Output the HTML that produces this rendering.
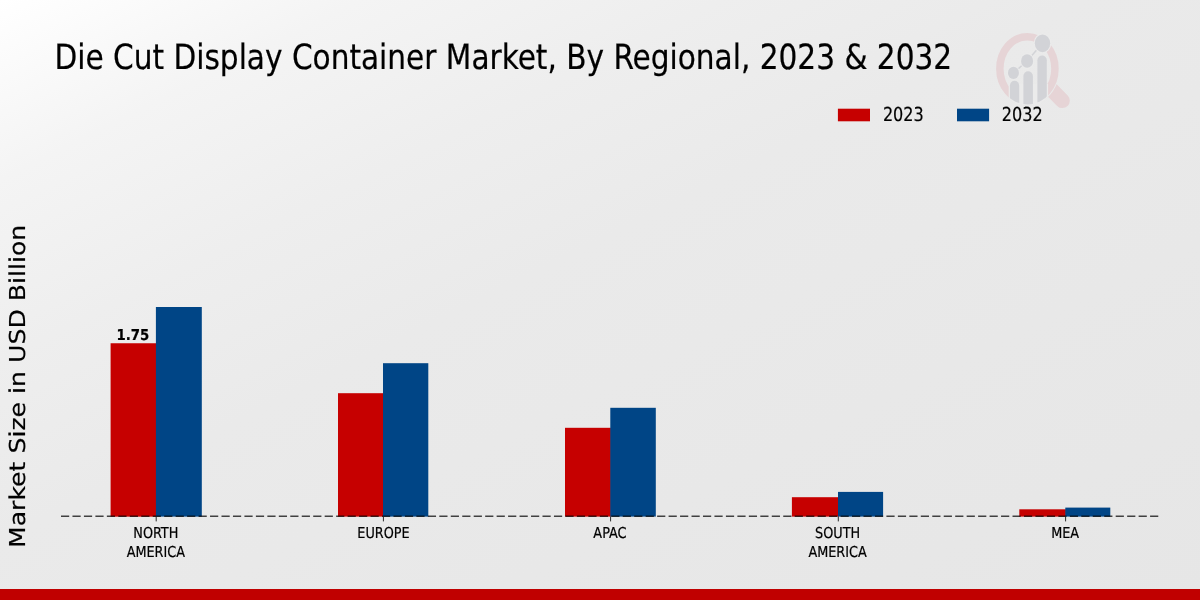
<!DOCTYPE html>
<html lang="en">
<head>
<meta charset="utf-8">
<title>Die Cut Display Container Market, By Regional, 2023 &amp; 2032</title>
<style>
html,body{margin:0;padding:0;}
body{width:1200px;height:600px;overflow:hidden;position:relative;
  background:linear-gradient(to bottom right,#ffffff 0%,#f4f4f4 15%,#eeeeee 30%,#eaeaea 45%,#e8e8e8 70%,#e6e6e6 100%);
  font-family:"DejaVu Sans Condensed","DejaVu Sans","Liberation Sans",sans-serif;color:#000;}
svg{position:absolute;left:0;top:0;}
text{font-family:"DejaVu Sans Condensed","DejaVu Sans","Liberation Sans",sans-serif;fill:#000;stroke:#000;stroke-width:0.2px;text-rendering:geometricPrecision;}
.ylab{font-family:"DejaVu Sans","Liberation Sans",sans-serif;font-stretch:normal;}
</style>
</head>
<body>
<svg width="1200" height="600" viewBox="0 0 1200 600">
  <!-- watermark logo -->
  <defs>
    <clipPath id="lc"><ellipse cx="1027.4" cy="68.7" rx="31.3" ry="35.8"/></clipPath>
    <clipPath id="lc2"><ellipse cx="1027.4" cy="68.7" rx="32.3" ry="36.8"/></clipPath>
    <clipPath id="hc"><path d="M980 20 H1090 V120 H980 Z M1027.4 31.9 a32.3 36.8 0 1 0 0.01 0 Z" clip-rule="evenodd"/></clipPath>
  </defs>
  <g id="logo">
    <line x1="1048" y1="86" x2="1062.4" y2="100.7" stroke="#e6d4d6" stroke-width="14.8" stroke-linecap="round" clip-path="url(#hc)"/>
    <ellipse cx="1027.4" cy="68.7" rx="27.55" ry="32.05" fill="none" stroke="#e6d4d6" stroke-width="7.5"/>
    <rect x="1008.7" y="84" width="39.4" height="24" fill="#ebebeb" clip-path="url(#lc2)"/>
    <g clip-path="url(#lc)" fill="#d2d3d7">
      <rect x="1009.9" y="80.8" width="9.3" height="40" rx="4.65"/>
      <rect x="1023.4" y="71.3" width="9.5" height="50" rx="4.75"/>
      <rect x="1037.4" y="55.6" width="9.4" height="60" rx="4.7"/>
    </g>
    <path d="M1013.4 72.9 L1027.1 61 L1042.5 43.3" stroke="#d2d3d7" stroke-width="1.5" fill="none"/>
    <g fill="#d2d3d7" stroke="#ebebeb" stroke-width="2.2" paint-order="stroke">
      <ellipse cx="1013.45" cy="72.9" rx="5.5" ry="6.05"/>
      <ellipse cx="1027.1" cy="61" rx="6.05" ry="6.8"/>
      <ellipse cx="1042.5" cy="43.3" rx="7.7" ry="8.9"/>
    </g>
  </g>
  <!-- title -->
  <text transform="translate(54.40,68.80) scale(0.9451,1)" font-size="34.8" text-anchor="start">Die Cut Display Container Market, By Regional, 2023 &amp; 2032</text>
  <!-- legend -->
  <rect x="837.9" y="108.7" width="32.1" height="12.6" fill="#c60000"/>
  <text transform="translate(882.90,121.45) scale(0.9245,1)" font-size="19.3" text-anchor="start">2023</text>
  <rect x="957" y="108.7" width="32.1" height="12.6" fill="#004586"/>
  <text transform="translate(1001.80,121.45) scale(0.9245,1)" font-size="19.3" text-anchor="start">2032</text>
  <!-- y label -->
  <text class="ylab" transform="translate(24.8,386.35) scale(0.87,1) rotate(-90)" text-anchor="middle" font-size="25.16">Market Size in USD Billion</text>
  <!-- bars -->
  <g fill="#c60000">
    <rect x="110.6" y="343.25" width="45.90" height="173.4"/>
    <rect x="338.0" y="393.2" width="45.60" height="123.4"/>
    <rect x="565.0" y="427.8" width="45.90" height="88.8"/>
    <rect x="791.9" y="497.2" width="46.70" height="19.4"/>
    <rect x="1019.3" y="509.3" width="46.60" height="7.3"/>
  </g>
  <g fill="#004586">
    <rect x="155.9" y="307.0" width="45.90" height="209.6"/>
    <rect x="383.0" y="363.2" width="45.30" height="153.4"/>
    <rect x="610.3" y="407.8" width="45.50" height="108.8"/>
    <rect x="838.0" y="491.9" width="45.10" height="24.7"/>
    <rect x="1065.3" y="507.6" width="45.00" height="9.0"/>
  </g>
  <!-- axis line -->
  <line x1="61" y1="516.2" x2="1159" y2="516.2" stroke="#000" stroke-opacity="0.72" stroke-width="1.5" stroke-dasharray="8.2 3.264"/>
  <g stroke="#2a2a2a" stroke-width="1">
    <line x1="156.20" y1="516.5" x2="156.20" y2="521.4"/>
    <line x1="383.40" y1="516.5" x2="383.40" y2="521.4"/>
    <line x1="610.60" y1="516.5" x2="610.60" y2="521.4"/>
    <line x1="838.30" y1="516.5" x2="838.30" y2="521.4"/>
    <line x1="1065.60" y1="516.5" x2="1065.60" y2="521.4"/>
  </g>
  <!-- value label -->
  <text transform="translate(132.85,339.65) scale(0.985,1)" font-size="15.0" text-anchor="middle" font-weight="bold">1.75</text>
  <!-- x labels -->
  <g>
    <text transform="translate(155.80,538.00) scale(0.95,1)" font-size="15.0" text-anchor="middle">NORTH</text>
    <text transform="translate(155.80,557.00) scale(0.95,1)" font-size="15.0" text-anchor="middle">AMERICA</text>
    <text transform="translate(383.50,538.00) scale(0.95,1)" font-size="15.0" text-anchor="middle">EUROPE</text>
    <text transform="translate(609.90,538.00) scale(0.95,1)" font-size="15.0" text-anchor="middle">APAC</text>
    <text transform="translate(837.60,538.00) scale(0.95,1)" font-size="15.0" text-anchor="middle">SOUTH</text>
    <text transform="translate(837.60,557.00) scale(0.95,1)" font-size="15.0" text-anchor="middle">AMERICA</text>
    <text transform="translate(1065.10,538.00) scale(0.95,1)" font-size="15.0" text-anchor="middle">MEA</text>
  </g>
  <!-- bottom strip -->
  <rect x="0" y="589" width="1200" height="11" fill="#c00000"/>
</svg>
</body>
</html>
